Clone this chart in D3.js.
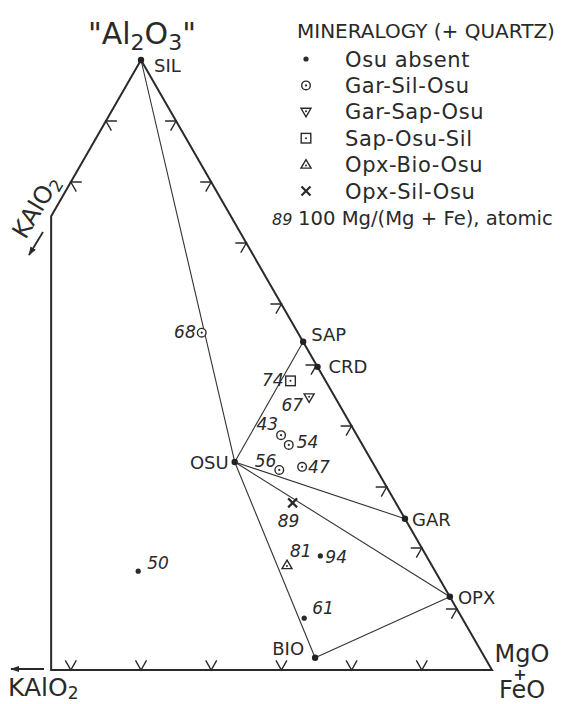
<!DOCTYPE html>
<html>
<head>
<meta charset="utf-8">
<script src="https://cdn.jsdelivr.net/npm/d3@7"></script>
<style>
  html, body { margin: 0; padding: 0; background: #fff; }
  svg { display: block; }
  text { fill: #2a2a2a; }
</style>
</head>
<body>
<div id="chart"></div>
<script>
// ---------------- DATA (ternary %: Al2O3, KAlO2, MgO+FeO) ----------------
const minerals   = ["SIL", "SAP", "CRD", "GAR", "OPX", "OSU", "BIO"];
const mineralAl  = [100, 53.8, 49.7, 24.8, 12.0, 34.1, 2.0];
const mineralK   = [0, 0, 0, 0, 0, 19.6, 24.2];

const sampleLabels = ["68", "74", "67", "43", "54", "56", "47", "89", "81", "94", "61", "50"];
const sampleTypes  = ["Gar-Sil-Osu", "Sap-Osu-Sil", "Gar-Sap-Osu", "Gar-Sil-Osu", "Gar-Sil-Osu",
                      "Gar-Sil-Osu", "Gar-Sil-Osu", "Opx-Sil-Osu", "Opx-Bio-Osu", "Osu absent",
                      "Osu absent", "Osu absent"];
const sampleAl = [55.3, 47.4, 44.7, 38.5, 36.9, 32.8, 33.3, 27.4, 17.2, 18.7, 8.5, 16.2];
const sampleK  = [13.7, 5.0, 3.7, 10.8, 10.5, 13.9, 10.4, 14.7, 20.6, 15.1, 22.5, 42.3];

const tieLines = [["SIL", "OSU"], ["OSU", "BIO"], ["OSU", "SAP"], ["OSU", "GAR"], ["OSU", "OPX"], ["BIO", "OPX"]];

const legendTypes = ["Osu absent", "Gar-Sil-Osu", "Gar-Sap-Osu", "Sap-Osu-Sil", "Opx-Bio-Osu", "Opx-Sil-Osu"];
const legendTitle = "MINERALOGY (+ QUARTZ)";
const legendNote  = "100 Mg/(Mg + Fe), atomic";
const legendNoteExample = "89";

// frame outline (truncated triangle) in ternary %
const outlineAl = [100, 74.4, 0, 0];
const outlineK  = [0, 25.6, 62.8, 0];

// tick values (%) along the edges
const ticksRight  = [10, 20, 30, 40, 50, 60, 70, 80, 90];   // Al2O3 on Al2O3–(MgO+FeO) edge
const ticksLeft   = [80, 90];                                // Al2O3 on Al2O3–KAlO2 edge
const ticksBottom = [40, 50, 60, 70, 80, 90];                // MgO+FeO on KAlO2–(MgO+FeO) edge

// ---------------- LAYOUT ----------------
const W = 573, H = 704;
const FONT = "'DejaVu Sans', 'Noto Sans', sans-serif";

const svg = d3.select("#chart").append("svg").attr("width", W).attr("height", H);

// ternary -> cartesian unit frame (equilateral), then linear scales to pixels
const x = d3.scaleLinear().domain([0, 1]).range([-210, 492]);
const y = d3.scaleLinear().domain([0, Math.sqrt(3) / 2]).range([670, 60]);
function proj(al, k) {
  const a = al / 100, kk = k / 100, m = 1 - a - kk;
  return [x(m + a / 2), y(a * Math.sqrt(3) / 2)];
}

// label offsets (layout only)
const mineralLabelPos = {
  SIL: [13, 12, "start"], SAP: [8, -1, "start"], CRD: [11, 6, "start"], GAR: [7, 7, "start"],
  OPX: [8, 7, "start"], OSU: [-6, 7, "end"], BIO: [-11, -3, "end"]
};
const sampleLabelPos = {
  "68": [-6, 5, "end"], "74": [-7, 5, "end"], "67": [-6, 14, "end"], "43": [-3, -5, "end"],
  "54": [8, 3, "start"], "56": [-3, -3, "end"], "47": [6, 6, "start"], "89": [-4, 24, "middle"],
  "81": [3, -8, "start"], "94": [5, 7, "start"], "61": [8, -4, "start"], "50": [9, -2, "start"]
};

// ---------------- FRAME ----------------
const outlinePts = outlineAl.map((a, i) => proj(a, outlineK[i]));
svg.append("path")
  .attr("d", d3.line()(outlinePts) + "Z")
  .attr("fill", "none").attr("stroke", "#2a2a2a").attr("stroke-width", 2)
  .attr("stroke-linejoin", "miter");

// ticks: V with apex on edge, arms toward inside
function drawTick(p, nx, ny) {
  const L = 11, ang = Math.PI / 6;
  const base = Math.atan2(ny, nx);
  const a1 = [p[0] + L * Math.cos(base + ang), p[1] + L * Math.sin(base + ang)];
  const a2 = [p[0] + L * Math.cos(base - ang), p[1] + L * Math.sin(base - ang)];
  svg.append("path").attr("d", d3.line()([a1, p, a2]))
    .attr("fill", "none").attr("stroke", "#2a2a2a").attr("stroke-width", 1.4);
}
const c30 = Math.cos(Math.PI / 6), s30 = 0.5;
ticksRight.forEach(a => drawTick(proj(a, 0), -c30, s30));
ticksLeft.forEach(a => drawTick(proj(a, 100 - a), c30, s30));
ticksBottom.forEach(m => drawTick(proj(0, 100 - m), 0, -1));

// ---------------- TIE LINES ----------------
const mIdx = Object.fromEntries(minerals.map((m, i) => [m, i]));
tieLines.forEach(([p, q]) => {
  const P = proj(mineralAl[mIdx[p]], mineralK[mIdx[p]]);
  const Q = proj(mineralAl[mIdx[q]], mineralK[mIdx[q]]);
  svg.append("line").attr("x1", P[0]).attr("y1", P[1]).attr("x2", Q[0]).attr("y2", Q[1])
    .attr("stroke", "#333").attr("stroke-width", 1.1);
});

// mineral points + labels
minerals.forEach((mn, i) => {
  const P = proj(mineralAl[i], mineralK[i]);
  svg.append("circle").attr("cx", P[0]).attr("cy", P[1]).attr("r", 3.2).attr("fill", "#222");
  const o = mineralLabelPos[mn];
  svg.append("text").attr("x", P[0] + o[0]).attr("y", P[1] + o[1]).attr("text-anchor", o[2])
    .attr("font-family", FONT).attr("font-size", 18).text(mn);
});

// ---------------- MARKERS ----------------
function marker(g, type, cx, cy) {
  const st = "#2a2a2a";
  if (type === "Osu absent") {
    g.append("circle").attr("cx", cx).attr("cy", cy).attr("r", 2.6).attr("fill", st);
  } else if (type === "Gar-Sil-Osu") {
    g.append("circle").attr("cx", cx).attr("cy", cy).attr("r", 4.3).attr("fill", "#fff").attr("stroke", st).attr("stroke-width", 1.4);
    g.append("circle").attr("cx", cx).attr("cy", cy).attr("r", 1.1).attr("fill", st);
  } else if (type === "Gar-Sap-Osu") {
    const s = 5;
    g.append("path").attr("d", `M${cx - s},${cy - 3.5}L${cx + s},${cy - 3.5}L${cx},${cy + 5}Z`)
      .attr("fill", "#fff").attr("stroke", st).attr("stroke-width", 1.4);
    g.append("circle").attr("cx", cx).attr("cy", cy - 0.5).attr("r", 1).attr("fill", st);
  } else if (type === "Sap-Osu-Sil") {
    g.append("rect").attr("x", cx - 4.8).attr("y", cy - 4.8).attr("width", 9.6).attr("height", 9.6)
      .attr("fill", "#fff").attr("stroke", st).attr("stroke-width", 1.4);
    g.append("circle").attr("cx", cx).attr("cy", cy).attr("r", 1).attr("fill", st);
  } else if (type === "Opx-Bio-Osu") {
    const s = 5;
    g.append("path").attr("d", `M${cx - s},${cy + 3.5}L${cx + s},${cy + 3.5}L${cx},${cy - 5}Z`)
      .attr("fill", "#fff").attr("stroke", st).attr("stroke-width", 1.4);
    g.append("circle").attr("cx", cx).attr("cy", cy + 0.8).attr("r", 1).attr("fill", st);
  } else if (type === "Opx-Sil-Osu") {
    const s = 4.5;
    g.append("path").attr("d", `M${cx - s},${cy - s}L${cx + s},${cy + s}M${cx - s},${cy + s}L${cx + s},${cy - s}`)
      .attr("stroke", st).attr("stroke-width", 2.2);
  }
}

const gS = svg.append("g");
sampleLabels.forEach((lab, i) => {
  const P = proj(sampleAl[i], sampleK[i]);
  marker(gS, sampleTypes[i], P[0], P[1]);
  const o = sampleLabelPos[lab];
  gS.append("text").attr("x", P[0] + o[0]).attr("y", P[1] + o[1]).attr("text-anchor", o[2])
    .attr("font-family", FONT).attr("font-style", "italic").attr("font-size", 17).text(lab);
});

// ---------------- AXIS / VERTEX LABELS ----------------
const t1 = svg.append("text").attr("x", 142).attr("y", 44).attr("text-anchor", "middle")
  .attr("font-family", FONT).attr("font-size", 30);
t1.append("tspan").text("\"Al");
t1.append("tspan").attr("font-size", 22).attr("dy", 6).text("2");
t1.append("tspan").attr("dy", -6).text("O");
t1.append("tspan").attr("font-size", 22).attr("dy", 6).text("3");
t1.append("tspan").attr("dy", -6).text("\"");

const t2 = svg.append("text").attr("x", 8).attr("y", 696)
  .attr("font-family", FONT).attr("font-size", 25);
t2.append("tspan").text("KAlO");
t2.append("tspan").attr("font-size", 17).attr("dy", 3).text("2");

svg.append("text").attr("x", 522).attr("y", 662).attr("text-anchor", "middle")
  .attr("font-family", FONT).attr("font-size", 24).text("MgO");
svg.append("text").attr("x", 520).attr("y", 680).attr("text-anchor", "middle")
  .attr("font-family", FONT).attr("font-size", 16).attr("font-weight", "bold").text("+");
svg.append("text").attr("x", 522).attr("y", 698).attr("text-anchor", "middle")
  .attr("font-family", FONT).attr("font-size", 24).text("FeO");

const t3 = svg.append("text").attr("transform", "translate(43,211) rotate(-59)")
  .attr("text-anchor", "middle").attr("font-family", FONT).attr("font-size", 24);
t3.append("tspan").text("KAlO");
t3.append("tspan").attr("font-size", 17).attr("dy", 4).text("2");

// arrows
svg.append("defs").append("marker").attr("id", "ah").attr("viewBox", "0 0 10 10")
  .attr("refX", 9).attr("refY", 5).attr("markerWidth", 9).attr("markerHeight", 9)
  .attr("markerUnits", "userSpaceOnUse").attr("orient", "auto")
  .append("path").attr("d", "M0,1.5L10,5L0,8.5Z").attr("fill", "#2a2a2a");
svg.append("line").attr("x1", 44).attr("y1", 669).attr("x2", 11).attr("y2", 669)
  .attr("stroke", "#2a2a2a").attr("stroke-width", 1.8).attr("marker-end", "url(#ah)");
svg.append("line").attr("x1", 43).attr("y1", 232).attr("x2", 29).attr("y2", 255)
  .attr("stroke", "#2a2a2a").attr("stroke-width", 1.8).attr("marker-end", "url(#ah)");

// ---------------- LEGEND ----------------
const lg = svg.append("g");
lg.append("text").attr("x", 297).attr("y", 38).attr("font-family", FONT).attr("font-size", 20).text(legendTitle);
const rowY = d3.scalePoint().domain(legendTypes).range([59, 191]);
legendTypes.forEach(t => {
  marker(lg, t, 306, rowY(t));
  lg.append("text").attr("x", 345).attr("y", rowY(t) + 7.5).attr("font-family", FONT)
    .attr("font-size", 21).attr("letter-spacing", 0.6).text(t);
});
lg.append("text").attr("x", 272).attr("y", 225).attr("font-family", FONT).attr("font-style", "italic")
  .attr("font-size", 16).text(legendNoteExample);
lg.append("text").attr("x", 298).attr("y", 225).attr("font-family", FONT).attr("font-size", 19.6).text(legendNote);
</script>
</body>
</html>
